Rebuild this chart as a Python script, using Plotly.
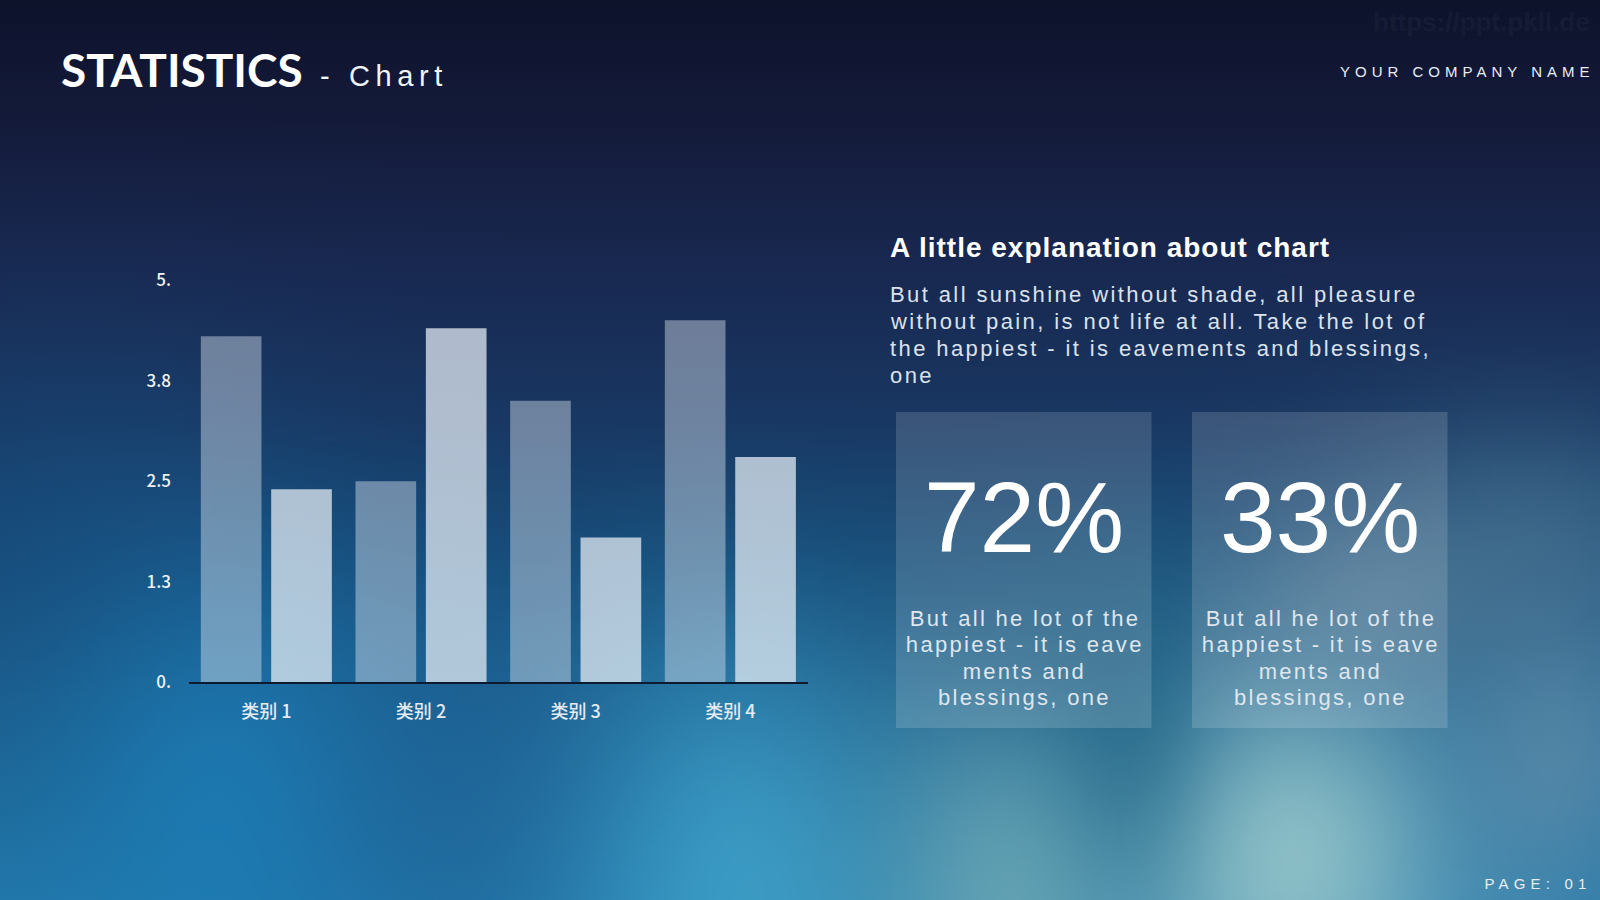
import base64, struct, zlib, json
import numpy as np
import plotly.graph_objects as go

# ---------------- data ----------------
categories = ["类别 1", "类别 2", "类别 3", "类别 4"]
series_1 = [4.3, 2.5, 3.5, 4.5]
series_2 = [2.4, 4.4, 1.8, 2.8]
y_tickvals = [0, 1.25, 2.5, 3.75, 5]
y_ticktext = ["0.", "1.3", "2.5", "3.8", "5."]

title_main = "STATISTICS"
title_sub = "- Chart"
company = "YOUR COMPANY NAME"
watermark = "https://ppt.pkll.de"
page_label = "PAGE: 01"
heading = "A little explanation about chart"
paragraph_lines = [
    "But all sunshine without shade, all pleasure",
    "without pain, is not life at all. Take the lot of",
    "the happiest - it is eavements and blessings,",
    "one",
]
stat_values = ["72%", "33%"]
stat_lines = ["But all he lot of the", "happiest - it is eave", "ments and", "blessings, one"]

W, H = 1600, 900


# ---------------- background image ----------------
def make_background():
    sc = 4
    w, h = W // sc, H // sc
    ys = (np.arange(h) + 0.5) * sc
    xs = (np.arange(w) + 0.5) * sc
    X, Y = np.meshgrid(xs, ys)
    stops_y = [0, 120, 260, 420, 560, 700, 900]
    stops_c = [(14, 19, 44), (20, 27, 58), (25, 40, 80), (24, 55, 98),
               (22, 75, 120), (28, 98, 145), (35, 120, 170)]
    img = np.zeros((h, w, 3))
    for k in range(3):
        col = np.interp(ys, stops_y, [c[k] for c in stops_c])
        img[:, :, k] = col[:, None]
    blobs = [
        (60, 560, 160, 150, (25, 80, 130), 0.45),
        (230, 810, 120, 160, (28, 125, 182), 0.8),
        (470, 800, 110, 150, (30, 92, 145), 0.45),
        (740, 890, 110, 170, (62, 160, 200), 0.85),
        (1010, 890, 100, 150, (120, 176, 182), 0.7),
        (1290, 860, 120, 140, (150, 198, 202), 0.9),
        (1130, 740, 55, 110, (30, 100, 130), 0.5),
        (1560, 750, 80, 120, (110, 150, 175), 0.6),
        (1520, 540, 130, 90, (82, 122, 150), 0.55),
        (1370, 600, 80, 60, (100, 135, 158), 0.45),
        (1060, 620, 120, 90, (28, 88, 125), 0.35),
    ]
    for cx, cy, sx, sy, c, s in blobs:
        wgt = s * np.exp(-(((X - cx) / sx) ** 2 + ((Y - cy) / sy) ** 2) / 2)
        for k in range(3):
            img[:, :, k] = img[:, :, k] * (1 - wgt) + c[k] * wgt
    arr = np.clip(img, 0, 255).astype(np.uint8)
    raw = b"".join(b"\x00" + arr[r].tobytes() for r in range(h))

    def chunk(t, d):
        return struct.pack(">I", len(d)) + t + d + struct.pack(">I", zlib.crc32(t + d) & 0xffffffff)

    png = (b"\x89PNG\r\n\x1a\n" + chunk(b"IHDR", struct.pack(">IIBBBBB", w, h, 8, 2, 0, 0, 0))
           + chunk(b"IDAT", zlib.compress(raw, 9)) + chunk(b"IEND", b""))
    return "data:image/png;base64," + base64.b64encode(png).decode()


def px(x):
    return x / W


def py(y):
    return 1 - y / H


fig = go.Figure()
fig.add_trace(go.Bar(x=categories, y=series_1, name="系列 1",
                     marker=dict(color="rgba(215,225,235,0.45)", line=dict(width=0))))
fig.add_trace(go.Bar(x=categories, y=series_2, name="系列 2",
                     marker=dict(color="rgba(228,236,244,0.74)", line=dict(width=0))))

annotations = []
spacings = []


def add_text(text, x, y, size, family, color, xanchor="left", spacing=0, weight="normal"):
    annotations.append(dict(text=text, x=px(x), y=py(y), xref="paper", yref="paper",
                            xanchor=xanchor, yanchor="middle", align=xanchor, showarrow=False,
                            font=dict(size=size, family=family, color=color, weight=weight)))
    spacings.append(spacing)


ARIAL = "Liberation Sans, Arial, sans-serif"
add_text(title_main, 59, 70, 46, "Lato", "#ffffff", weight="bold")
add_text(title_sub, 318, 76, 29, ARIAL, "#f2f4f8", spacing=5.6)
add_text(company, 1596, 71.5, 15, ARIAL, "#e8edf5", xanchor="right", spacing=5)
add_text(watermark, 1592, 22, 26, ARIAL, "rgba(255,255,255,0.05)", xanchor="right", weight="bold")
add_text(page_label, 1594, 883.5, 15, ARIAL, "#e8edf5", xanchor="right", spacing=5.2)
add_text(heading, 888, 247.5, 28, ARIAL, "#ffffff", spacing=1, weight="bold")
para_y = [294.7, 321.5, 348.5, 375]
for line, yy in zip(paragraph_lines, para_y):
    add_text(line, 888, yy, 22, ARIAL, "#dbe2ec", spacing=2.4)

box_lefts = [896, 1192]
box_w, box_top, box_bot = 255.5, 412, 728
shapes = []
stat_y = [618, 644.5, 671, 697]
for val, bl in zip(stat_values, box_lefts):
    shapes.append(dict(type="rect", xref="paper", yref="paper", x0=px(bl), x1=px(bl + box_w),
                       y0=py(box_bot), y1=py(box_top), line=dict(width=0),
                       fillcolor="rgba(255,255,255,0.15)", layer="below"))
    cx = bl + box_w / 2
    add_text(val, cx, 517, 100, ARIAL, "#ffffff", xanchor="center")
    for line, yy in zip(stat_lines, stat_y):
        add_text(line, cx + 1, yy, 22, ARIAL, "#dfe6ee", xanchor="center", spacing=2.3)

fig.update_layout(
    width=W, height=H, margin=dict(l=0, r=0, t=0, b=0, autoexpand=False),
    paper_bgcolor="#10173a", plot_bgcolor="rgba(0,0,0,0)",
    showlegend=False, barmode="group", bargap=0.09, bargroupgap=0.138,
    images=[dict(source=make_background(), xref="paper", yref="paper", x=0, y=1,
                 sizex=1, sizey=1, xanchor="left", yanchor="top", sizing="stretch",
                 layer="below")],
    shapes=shapes, annotations=annotations,
    xaxis=dict(domain=[px(189), px(807.7)], showline=True, linecolor="#0d1a30", linewidth=1.5,
               showgrid=False, zeroline=False, ticks="", ticklabelstandoff=12, automargin=False,
               tickfont=dict(family="Noto Sans CJK SC", size=18, color="#e4ebf3", weight=500),
               fixedrange=True),
    yaxis=dict(domain=[py(682.3), py(280)], range=[0, 5], tickvals=y_tickvals, ticktext=y_ticktext,
               showgrid=False, zeroline=False, showline=False, ticks="", ticklabelstandoff=17,
               automargin=False,
               tickfont=dict(family="Noto Sans CJK SC", size=17, color="#f0f4f8", weight=500),
               fixedrange=True),
)

post = ("var ls = " + json.dumps(spacings) + ";"
        "document.querySelectorAll('[id=\"{plot_id}\"] g.annotation').forEach(function(g){"
        "var i = +g.getAttribute('data-index'); var t = g.querySelector('text.annotation-text');"
        "if (t && ls[i]) { t.style.letterSpacing = ls[i] + 'px'; }});")

fig.write_html("out.html", post_script=post, config={"displayModeBar": False})
